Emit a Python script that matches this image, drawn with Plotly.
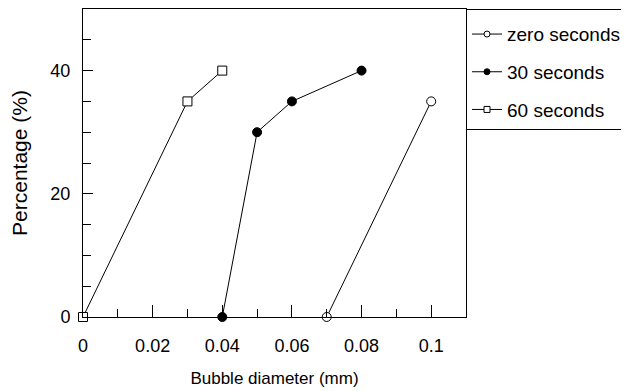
import plotly.graph_objects as go

zero_x = [0.07, 0.10]
zero_y = [0, 35]
s30_x = [0.04, 0.05, 0.06, 0.08]
s30_y = [0, 30, 35, 40]
s60_x = [0.0, 0.03, 0.04]
s60_y = [0, 35, 40]

FONT = "Liberation Sans, Arial, sans-serif"

fig = go.Figure()
series = [
    ("zero seconds", zero_x, zero_y, "circle", "white", "g1"),
    ("30 seconds", s30_x, s30_y, "circle", "black", "g2"),
    ("60 seconds", s60_x, s60_y, "square", "white", "g3"),
]
for name, x, y, sym, fill, grp in series:
    fig.add_trace(go.Scatter(
        x=x, y=y, name=name, mode="lines+markers", legendgroup=grp, showlegend=False,
        line=dict(color="black", width=1),
        marker=dict(symbol=sym, size=9, color=fill, line=dict(color="black", width=1)),
        cliponaxis=False,
    ))
# legend entries with the smaller legend glyphs
for name, x, y, sym, fill, grp in series:
    fig.add_trace(go.Scatter(
        x=[None], y=[None], name=name, mode="lines+markers", legendgroup=grp,
        line=dict(color="black", width=1),
        marker=dict(symbol=sym, size=6, color=fill, line=dict(color="black", width=1)),
    ))

# page body has an 8px margin, so the figure is 8px smaller and offset
fig.update_layout(
    width=621, height=383,
    margin=dict(l=75, r=163, t=1, b=74, autoexpand=False),
    paper_bgcolor="white", plot_bgcolor="white",
    font=dict(family=FONT, color="black", size=18),
    showlegend=True,
    legend=dict(x=1.0, xanchor="left", y=1.0, yanchor="top",
                bordercolor="black", borderwidth=1, bgcolor="white",
                font=dict(size=19), tracegroupgap=10,
                title=dict(text=" ", font=dict(size=4)),
                itemwidth=30),
    xaxis=dict(range=[0, 0.11], tickvals=[0, 0.02, 0.04, 0.06, 0.08, 0.1],
               ticktext=["0", "0.02", "0.04", "0.06", "0.08", "0.1"],
               ticks="inside", ticklen=12, tickwidth=1, tickcolor="black",
               minor=dict(tickvals=[0.01, 0.03, 0.05, 0.07, 0.09], ticks="inside", ticklen=8, tickcolor="black", tickwidth=1),
               showline=True, linecolor="black", linewidth=1, mirror=True,
               showgrid=False, zeroline=False, automargin=False,
               ticklabelstandoff=12,
               title=dict(text="Bubble diameter (mm)", font=dict(size=17), standoff=17),
               tickfont=dict(size=18)),
    yaxis=dict(range=[0, 50], tickvals=[0, 20, 40],
               ticks="inside", ticklen=10, tickwidth=1, tickcolor="black",
               minor=dict(tickvals=[5, 10, 15, 25, 30, 35, 45], ticks="inside", ticklen=8, tickcolor="black", tickwidth=1),
               showline=True, linecolor="black", linewidth=1, mirror=True,
               showgrid=False, zeroline=False, automargin=False,
               ticklabelstandoff=8,
               title=dict(text="Percentage (%)", font=dict(size=21), standoff=18),
               tickfont=dict(size=18)),
)
fig.write_html("out.html")
